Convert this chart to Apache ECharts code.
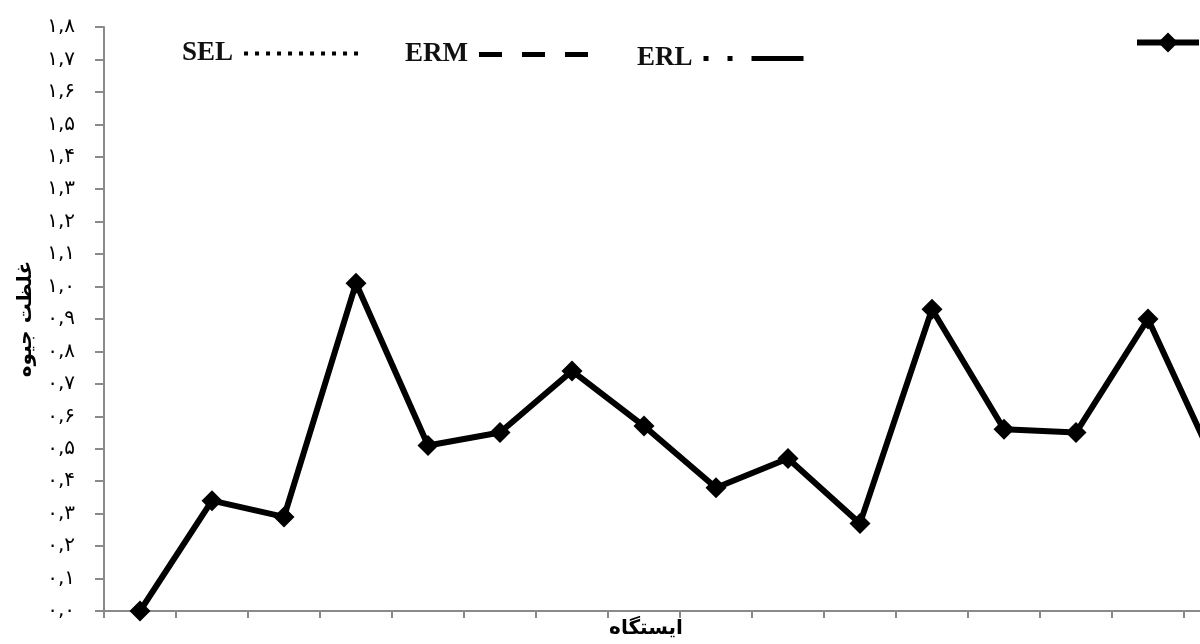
<!DOCTYPE html>
<html>
<head>
<meta charset="utf-8">
<script src="https://cdn.jsdelivr.net/npm/echarts@6/dist/echarts.min.js"></script>
<style>
html,body{margin:0;padding:0;background:#fff;overflow:hidden;width:1200px;height:644px;}
#chart{width:1256px;height:644px;}
</style>
</head>
<body>
<div id="chart"></div>
<script>
// ---- data ----
var stations = ['1','2','3','4','5','6','7','8','9','10','11','12','13','14','15','16'];
var hgValues = [0.00, 0.34, 0.29, 1.01, 0.51, 0.55, 0.74, 0.57, 0.38, 0.47, 0.27, 0.93, 0.56, 0.55, 0.90, 0.42];
var selValues = [];
var ermValues = [];
var erlValues = [];
var yTickLabels = ['۰,۰','۰,۱','۰,۲','۰,۳','۰,۴','۰,۵','۰,۶','۰,۷','۰,۸','۰,۹','۱,۰','۱,۱','۱,۲','۱,۳','۱,۴','۱,۵','۱,۶','۱,۷','۱,۸'];
var yTitle = 'غلظت جیوه';
var xTitle = 'ایستگاه';
var mainName = 'Hg';

var chart = echarts.init(document.getElementById('chart'));
var legendFont = {fontFamily: 'Liberation Serif', fontWeight: 'bold', fontSize: 27, color: '#111', padding: [0, 6, 8, 0]};
var selDash = [4, 7];
var ermDash = [23, 20];
var erlDash = [5, 19, 5, 19, 52, 20];

chart.setOption({
  animation: false,
  backgroundColor: '#fff',
  grid: {left: 104, top: 27, right: 0, height: 588, containLabel: false},
  legend: [
    {data: [{name: 'SEL', itemStyle: {opacity: 0}, lineStyle: {type: selDash, width: 4, color: '#000'}}],
     left: 182, top: 40, padding: 0, align: 'right', itemWidth: 121, itemHeight: 10, textStyle: legendFont, selectedMode: false},
    {data: [{name: 'ERM', itemStyle: {opacity: 0}, lineStyle: {type: ermDash, width: 5, color: '#000'}}],
     left: 405, top: 41, padding: 0, align: 'right', itemWidth: 112, itemHeight: 10, textStyle: legendFont, selectedMode: false},
    {data: [{name: 'ERL', itemStyle: {opacity: 0}, lineStyle: {type: erlDash, width: 5, color: '#000'}}],
     left: 637, top: 45, padding: 0, align: 'right', itemWidth: 102, itemHeight: 10, textStyle: legendFont, selectedMode: false},
    {data: [{name: mainName, lineStyle: {width: 6, color: '#000'}}], left: 1134, top: 29, padding: 0, align: 'left', itemWidth: 62, itemHeight: 25,
     textStyle: legendFont, selectedMode: false}
  ],
  xAxis: {
    type: 'category',
    data: stations,
    boundaryGap: true,
    axisLine: {lineStyle: {color: '#8a8a8a', width: 2}},
    axisTick: {show: true, interval: 0, length: 7, lineStyle: {color: '#8a8a8a', width: 2}},
    axisLabel: {show: false},
    splitLine: {show: false},
    name: xTitle,
    nameLocation: 'middle',
    nameGap: 8,
    nameTextStyle: {fontFamily: 'DejaVu Sans', fontWeight: 'bold', fontSize: 20, color: '#000', verticalAlign: 'top', padding: [0, 68, 0, 0]}
  },
  yAxis: {
    type: 'value',
    min: 0, max: 1.8, interval: 0.1,
    axisLine: {show: true, lineStyle: {color: '#8a8a8a', width: 2}},
    axisTick: {show: true, length: 9, lineStyle: {color: '#8a8a8a', width: 2}},
    axisLabel: {
      margin: 29, color: '#000', fontFamily: 'DejaVu Sans', fontSize: 20,
      formatter: function (v) { return yTickLabels[Math.round(v * 10)]; }
    },
    splitLine: {show: false},
    name: yTitle,
    nameLocation: 'middle',
    nameRotate: 90,
    nameGap: 66,
    nameTextStyle: {fontFamily: 'DejaVu Sans', fontWeight: 'bold', fontSize: 20, color: '#000'}
  },
  series: [
    {name: 'SEL', type: 'line', data: selValues, symbol: 'none', lineStyle: {type: selDash, width: 4, color: '#000'}, itemStyle: {color: '#000'}},
    {name: 'ERM', type: 'line', data: ermValues, symbol: 'none', lineStyle: {type: ermDash, width: 5, color: '#000'}, itemStyle: {color: '#000'}},
    {name: 'ERL', type: 'line', data: erlValues, symbol: 'none', lineStyle: {type: erlDash, width: 5, color: '#000'}, itemStyle: {color: '#000'}},
    {name: mainName, type: 'line', data: hgValues, symbol: 'diamond', symbolSize: 21,
     lineStyle: {color: '#000', width: 6, join: 'round'}, itemStyle: {color: '#000'}}
  ]
});
</script>
</body>
</html>
